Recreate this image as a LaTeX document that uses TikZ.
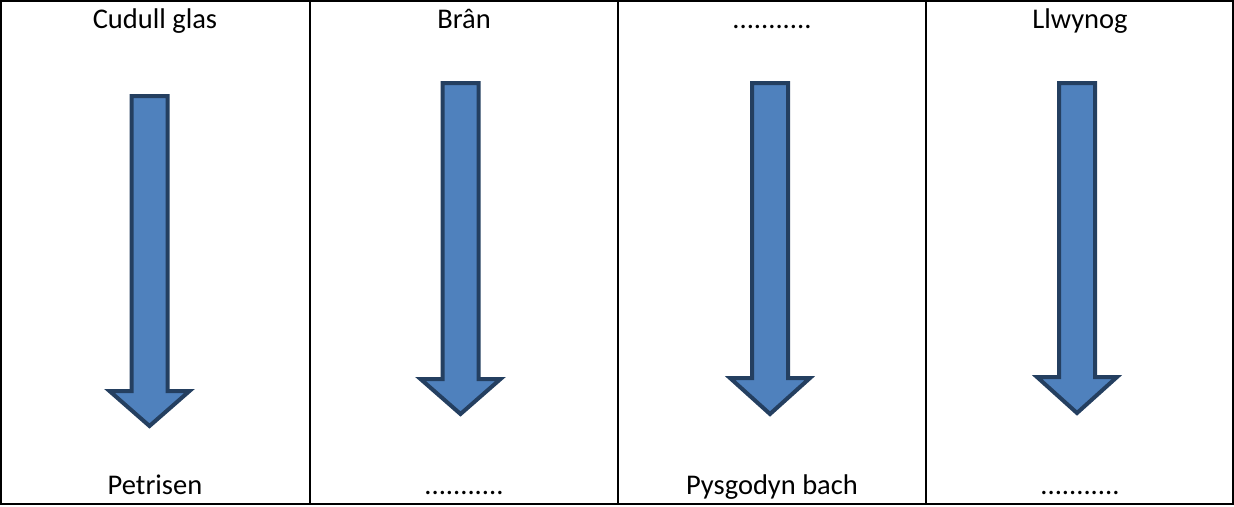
\documentclass[tikz,border=0pt]{standalone}
\usepackage{fontspec}
\setmainfont{Carlito}
\newcommand\mydownarrow[4]{% cx, top, headtop, tip
  \draw[arrowshape] ({#1-18},{-#2}) -- ({#1+18},{-#2}) -- ({#1+18},{-#3}) -- ({#1+40},{-#3})
    -- (#1,{-#4}) -- ({#1-40},{-#3}) -- ({#1-18},{-#3}) -- cycle;}
\begin{document}
\begin{tikzpicture}[x=1pt,y=1pt,
  arrowshape/.style={fill={rgb,255:red,79;green,129;blue,189}, draw={rgb,255:red,36;green,63;blue,96}, line width=4pt, line join=miter},
  gridline/.style={line width=2pt, black},
  lbl/.style={font=\fontsize{28.5}{30}\selectfont, anchor=base, inner sep=0pt}]
\useasboundingbox (0,0) rectangle (1234,-506);
\draw[gridline] (1,-1) rectangle (1233,-504);
\draw[gridline] (310,-1) -- (310,-504);
\draw[gridline] (618,-1) -- (618,-504);
\draw[gridline] (926,-1) -- (926,-504);
\node[lbl] (t1) at (155,-28) {Cudull glas};
\node[lbl] (t2) at (464,-28) {Brân};
\node[lbl] (t3) at (772,-28) {...........};
\node[lbl] (t4) at (1080,-28) {Llwynog};
\node[lbl] (b1) at (155,-494) {Petrisen};
\node[lbl] (b2) at (464,-494) {...........};
\node[lbl] (b3) at (772,-494) {Pysgodyn bach};
\node[lbl] (b4) at (1080,-494) {...........};
\mydownarrow{149.5}{96}{391}{426}
\mydownarrow{460.5}{83}{379}{414}
\mydownarrow{770}{83}{378}{414}
\mydownarrow{1077}{83}{377}{413}
\end{tikzpicture}
\end{document}
